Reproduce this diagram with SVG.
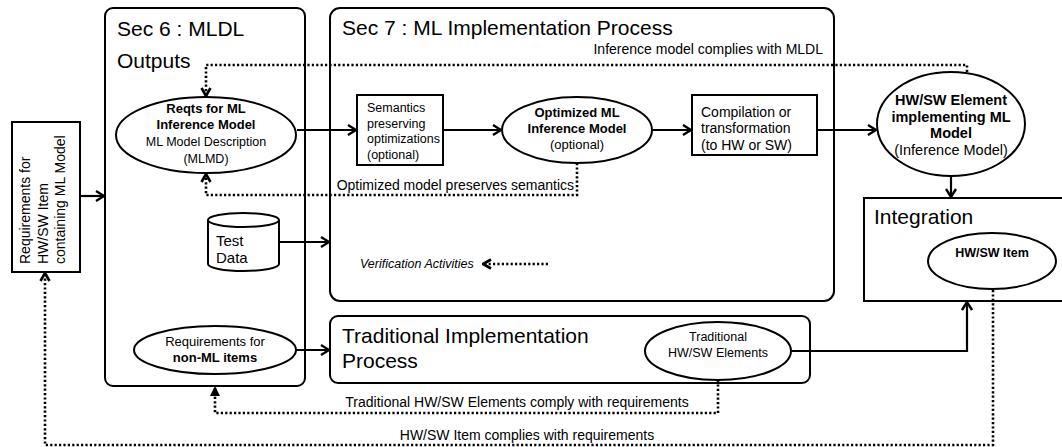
<svg xmlns="http://www.w3.org/2000/svg" width="1062" height="447" viewBox="0 0 1062 447">
<defs>
<style>
text{font-family:"Liberation Sans",Arial,sans-serif;fill:#000}
.t{font-size:21px}
.s{font-size:12.5px}
.n{font-size:13px}
.m{font-size:14px}
.h{font-size:14.5px}
.d{font-size:15px}
.b{font-weight:bold}
.c{text-anchor:middle}
.box{fill:#fff;stroke:#000;stroke-width:2}
.ln{fill:none;stroke:#000;stroke-width:2.2}
.dt{fill:none;stroke:#000;stroke-width:2.6;stroke-dasharray:2.2 2.2}
</style>
<marker id="ar" viewBox="0 0 10 12" refX="9" refY="6" markerWidth="10" markerHeight="12" markerUnits="userSpaceOnUse" orient="auto">
<path d="M1,1 L9,6 L1,11" fill="none" stroke="#000" stroke-width="2.4"/>
</marker>
<marker id="da" viewBox="0 0 10 12" refX="9" refY="6" markerWidth="10" markerHeight="12" markerUnits="userSpaceOnUse" orient="auto">
<path d="M1,1.5 L9,6 L1,10.5" fill="none" stroke="#000" stroke-width="2.6"/>
</marker>
<marker id="tri" viewBox="0 0 10 10" refX="9" refY="5" markerWidth="10" markerHeight="10" markerUnits="userSpaceOnUse" orient="auto">
<path d="M0,0 L10,5 L0,10 Z" fill="#000"/>
</marker>
</defs>
<rect width="1062" height="447" fill="#fff"/>

<g id="sec6">
<rect class="box" x="105" y="8" width="200" height="378" rx="8"/>
<text class="t" x="117" y="36">Sec 6 : MLDL</text>
<text class="t" x="117" y="68">Outputs</text>
</g>
<g id="sec7">
<rect class="box" x="330" y="8" width="504" height="293" rx="10"/>
<text class="t" x="342" y="35">Sec 7 : ML Implementation Process</text>
</g>
<g id="trad">
<rect class="box" x="330" y="316" width="480" height="67" rx="8"/>
<text class="t" x="342" y="343">Traditional Implementation</text>
<text class="t" x="342" y="368">Process</text>
</g>
<g id="integration">
<rect class="box" x="864" y="198" width="210" height="103"/>
<text class="t" x="874" y="224">Integration</text>
</g>

<g id="connectors">
<line class="ln" x1="80" y1="196" x2="104" y2="196" marker-end="url(#ar)"/>
<line class="ln" x1="297" y1="130" x2="356" y2="130" marker-end="url(#ar)"/>
<line class="ln" x1="443" y1="130" x2="501" y2="130" marker-end="url(#ar)"/>
<line class="ln" x1="652" y1="130" x2="691" y2="130" marker-end="url(#ar)"/>
<line class="ln" x1="817" y1="130" x2="876" y2="130" marker-end="url(#ar)"/>
<line class="ln" x1="951" y1="177" x2="951" y2="197" marker-end="url(#ar)"/>
<line class="ln" x1="279" y1="242" x2="329" y2="242" marker-end="url(#ar)"/>
<line class="ln" x1="296" y1="350" x2="329" y2="350" marker-end="url(#ar)"/>
<polyline class="ln" points="792,351 967,351 967,302" marker-end="url(#ar)"/>
<polyline class="dt" points="967,72 967,65 206,65 206,96" marker-end="url(#da)"/>
<polyline class="dt" points="577,163 577,195 206,195 206,174" marker-end="url(#da)"/>
<line class="dt" x1="548" y1="264" x2="483" y2="264" marker-end="url(#da)"/>
<polyline class="dt" points="718,380 718,413 215,413 215,387" marker-end="url(#tri)"/>
<polyline class="dt" points="993,290 993,445 45,445 45,273" marker-end="url(#da)"/>
<text class="m" x="823" y="54" text-anchor="end">Inference model complies with MLDL</text>
<text class="m" x="574" y="190" text-anchor="end">Optimized model preserves semantics</text>
<text class="s" x="360" y="268" font-style="italic">Verification Activities</text>
<text class="m c" x="517" y="407">Traditional HW/SW Elements comply with requirements</text>
<text class="m c" x="527" y="440">HW/SW Item complies with requirements</text>
</g>

<g id="req-item">
<rect class="box" x="12" y="122" width="68" height="150"/>
<g transform="translate(0,264) rotate(-90)">
<text class="m" x="0" y="30">Requirements for</text>
<text class="m" x="0" y="47.5">HW/SW Item</text>
<text class="m" x="0" y="65">containing ML Model</text>
</g>
</g>

<g id="reqts-ml">
<ellipse class="box" cx="206" cy="135" rx="90" ry="38"/>
<text class="n b c" x="206" y="113">Reqts for ML</text>
<text class="n b c" x="206" y="129">Inference Model</text>
<text class="s c" x="206" y="146">ML Model Description</text>
<text class="s c" x="206" y="163">(MLMD)</text>
</g>

<g id="semantics">
<rect class="box" x="357" y="95" width="86" height="70"/>
<text class="s" x="367" y="112">Semantics</text>
<text class="s" x="367" y="128">preserving</text>
<text class="s" x="367" y="143">optimizations</text>
<text class="s" x="367" y="159">(optional)</text>
</g>

<g id="optimized">
<ellipse class="box" cx="577" cy="130" rx="75" ry="33"/>
<text class="n b c" x="577" y="117">Optimized ML</text>
<text class="n b c" x="577" y="133">Inference Model</text>
<text class="n c" x="577" y="149">(optional)</text>
</g>

<g id="compilation">
<rect class="box" x="692" y="95" width="125" height="60"/>
<text class="m" x="701" y="117">Compilation or</text>
<text class="m" x="701" y="133">transformation</text>
<text class="m" x="701" y="150">(to HW or SW)</text>
</g>

<g id="hwsw-element">
<ellipse class="box" cx="951" cy="124" rx="74" ry="52"/>
<text class="h b c" x="951" y="105">HW/SW Element</text>
<text class="h b c" x="951" y="122">implementing ML</text>
<text class="h b c" x="951" y="138">Model</text>
<text class="h c" x="951" y="155">(Inference Model)</text>
</g>

<g id="hwsw-item">
<ellipse class="box" cx="992" cy="261" rx="64" ry="28"/>
<text class="s b c" x="992" y="257">HW/SW Item</text>
</g>

<g id="test-data">
<path class="box" d="M208,220 L208,264 A35.5,7 0 0 0 279,264 L279,220"/>
<ellipse class="box" cx="243.5" cy="220" rx="35.5" ry="7"/>
<text class="d" x="216" y="246">Test</text>
<text class="d" x="216" y="263">Data</text>
</g>

<g id="non-ml">
<ellipse class="box" cx="215" cy="350" rx="81" ry="24"/>
<text class="n c" x="215" y="346">Requirements for</text>
<text class="n b c" x="215" y="362">non-ML items</text>
</g>

<g id="trad-elements">
<ellipse class="box" cx="718" cy="351" rx="73" ry="29"/>
<text class="s c" x="718" y="341">Traditional</text>
<text class="s c" x="718" y="357">HW/SW Elements</text>
</g>
</svg>
